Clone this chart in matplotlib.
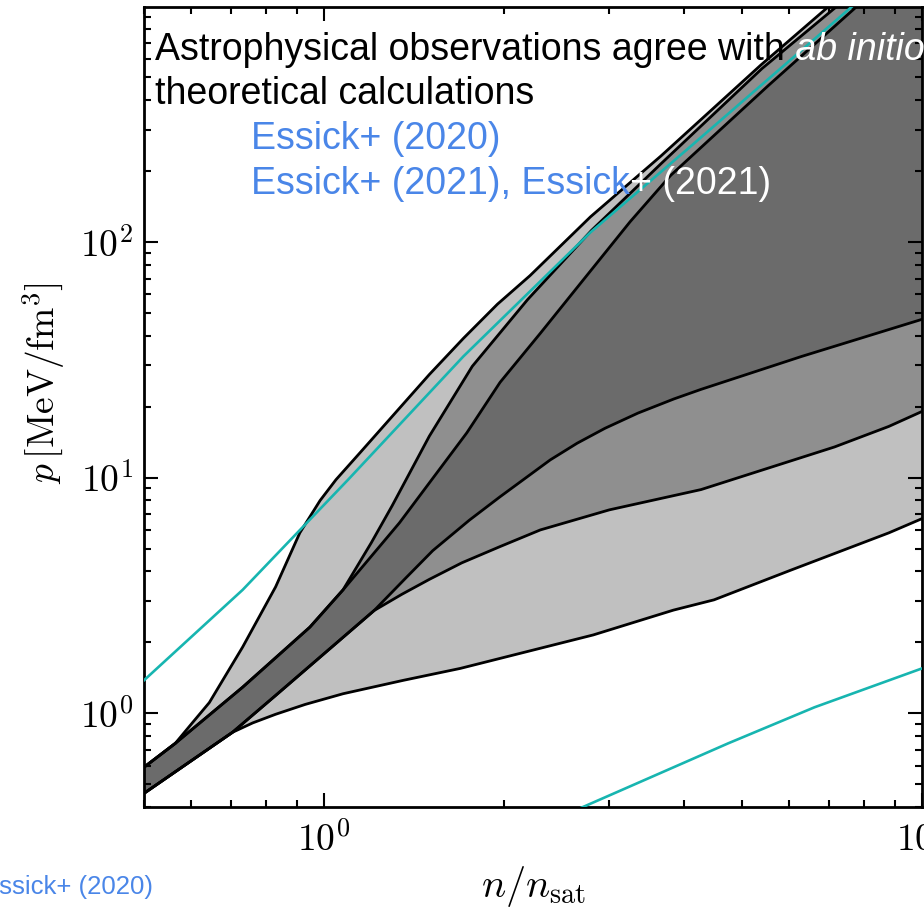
import matplotlib
matplotlib.use("Agg")
import matplotlib.pyplot as plt
from matplotlib.ticker import FuncFormatter, NullFormatter, LogLocator
import numpy as np

plt.rcParams['mathtext.fontset'] = 'cm'

# ---- curves: (n/n_sat, p [MeV/fm^3]) ----
# outer (light grey) band
a_hi_n = [0.5, 0.564, 0.60, 0.643, 0.731, 0.83, 0.911, 0.985, 1.047, 1.15, 1.32, 1.5, 1.71, 1.95, 2.21, 2.79, 3.66, 5.38, 6.98, 10.0]
a_hi_p = [0.59, 0.745, 0.90, 1.11, 1.91, 3.44, 5.83, 8.0, 9.8, 12.8, 19, 27.4, 39, 54.5, 72, 128, 232, 565, 1000, 3000]
a_lo_n = [0.5, 0.703, 0.76, 0.83, 0.93, 1.076, 1.358, 1.69, 2.82, 3.84, 4.49, 6.05, 8.8, 10.0]
a_lo_p = [0.457, 0.83, 0.91, 0.99, 1.09, 1.21, 1.38, 1.55, 2.15, 2.74, 3.03, 4.06, 5.83, 6.7]

# middle (medium grey) band
b_hi_n = [0.5, 0.564, 0.731, 0.947, 1.076, 1.2, 1.3, 1.5, 1.77, 2.19, 2.8, 3.66, 5.4, 7.2, 10.0]
b_hi_p = [0.59, 0.745, 1.29, 2.32, 3.34, 5.3, 7.6, 15.0, 29.7, 57, 112, 215, 545, 1000, 2600]
b_lo_n = [0.5, 0.703, 0.83, 1.076, 1.213, 1.35, 1.5, 1.7, 1.97, 2.3, 3.0, 4.27, 7.14, 8.8, 10.0]
b_lo_p = [0.457, 0.83, 1.19, 2.1, 2.73, 3.2, 3.7, 4.35, 5.1, 6.0, 7.3, 8.9, 13.5, 16.5, 19.1]

# inner (dark grey) band
c_hi_n = [0.5, 0.564, 0.731, 0.947, 1.076, 1.337, 1.733, 1.97, 2.3, 2.7, 3.25, 3.8, 5.53, 7.71, 10.0]
c_hi_p = [0.59, 0.745, 1.29, 2.32, 3.34, 6.43, 15.5, 25.4, 41, 68, 122, 192, 461, 980, 2000]
c_lo_n = [0.5, 0.703, 0.83, 1.076, 1.213, 1.37, 1.52, 1.75, 1.97, 2.39, 2.65, 2.95, 3.35, 3.85, 4.27, 6.29, 10.0]
c_lo_p = [0.457, 0.83, 1.19, 2.1, 2.73, 3.75, 4.9, 6.6, 8.3, 11.9, 14.0, 16.2, 18.8, 21.6, 23.7, 32.7, 47]

# cyan reference lines
cy_up_n = [0.5, 0.731, 1.097, 1.71, 2.79, 4.06, 7.57, 10.0]
cy_up_p = [1.38, 3.34, 9.8, 32.7, 110, 249, 980, 1800]
cy_dn_n = [2.68, 4.74, 6.61, 10.0]
cy_dn_p = [0.395, 0.745, 1.06, 1.55]

W, H = 924, 913
fig = plt.figure(figsize=(W / 100, H / 100), dpi=100)
ax = fig.add_axes([144 / W, 1 - 807 / H, (922 - 144) / W, (807 - 7) / H])
ax.set_xscale('log')
ax.set_yscale('log')

bands = [(a_hi_n, a_hi_p, a_lo_n, a_lo_p, '#c0c0c0'),
         (b_hi_n, b_hi_p, b_lo_n, b_lo_p, '#8f8f8f'),
         (c_hi_n, c_hi_p, c_lo_n, c_lo_p, '#6b6b6b')]
for hn, hp, ln, lp, col in bands:
    ax.fill(np.r_[hn, ln[::-1]], np.r_[hp, lp[::-1]], facecolor=col, edgecolor='none', zorder=1)
for hn, hp, ln, lp, col in bands:
    ax.plot(hn, hp, c='k', lw=2.0, zorder=2, solid_joinstyle='round')
    ax.plot(ln, lp, c='k', lw=2.0, zorder=2, solid_joinstyle='round')

ax.plot(cy_up_n, cy_up_p, c='#17b5b0', lw=1.9, zorder=3)
ax.plot(cy_dn_n, cy_dn_p, c='#17b5b0', lw=1.9, zorder=3)

ax.set_xlim(0.5, 10)
ax.set_ylim(0.4, 995)

for s in ax.spines.values():
    s.set_linewidth(2)
ax.xaxis.set_major_locator(LogLocator(base=10))
ax.yaxis.set_major_locator(LogLocator(base=10))
ax.xaxis.set_minor_locator(LogLocator(base=10, subs=np.arange(2, 10)))
ax.yaxis.set_minor_locator(LogLocator(base=10, subs=np.arange(2, 10)))
fmt = FuncFormatter(lambda v, pos: r'$10^{%d}$' % int(round(np.log10(v))))
ax.xaxis.set_major_formatter(fmt)
ax.yaxis.set_major_formatter(fmt)
ax.xaxis.set_minor_formatter(NullFormatter())
ax.yaxis.set_minor_formatter(NullFormatter())
ax.tick_params(which='both', direction='in', top=True, right=True, width=1.5)
ax.tick_params(which='major', length=10, labelsize=27)
ax.tick_params(which='minor', length=5)
ax.tick_params(axis='x', pad=11)
ax.tick_params(axis='y', pad=8)

fig.text(44 / W, 1 - 383 / H, r'$p\,[\mathrm{MeV}/\mathrm{fm}^3]$', rotation=90,
         ha='center', va='center', fontsize=27)
fig.text(534 / W, 1 - 897 / H, r'$n/n_{\rm sat}$', ha='center', va='baseline', fontsize=29)

# slide text laid over the chart
renderer = fig.canvas.get_renderer()
blue = '#4a86e8'
sans = 'Liberation Sans'


def put(x, y, s, **kw):
    t = fig.text(x / W, 1 - y / H, s, va='baseline', family=sans, **kw)
    return t.get_window_extent(renderer).x1


x1 = put(155, 60, 'Astrophysical observations agree with', color='black', fontsize=27)
put(x1, 60, ' ab initio', color='white', fontsize=27, style='italic')
put(155, 104, 'theoretical calculations', color='black', fontsize=27)
put(251, 149, 'Essick+ (2020)', color=blue, fontsize=27)
x1 = put(251, 194, 'Essick+ (2021), Essick', color=blue, fontsize=27)
put(x1, 194, '+ (2021)', color='white', fontsize=27)
put(-18, 894, 'Essick+ (2020)', color=blue, fontsize=18.5)

fig.savefig('out.png', dpi=100)
